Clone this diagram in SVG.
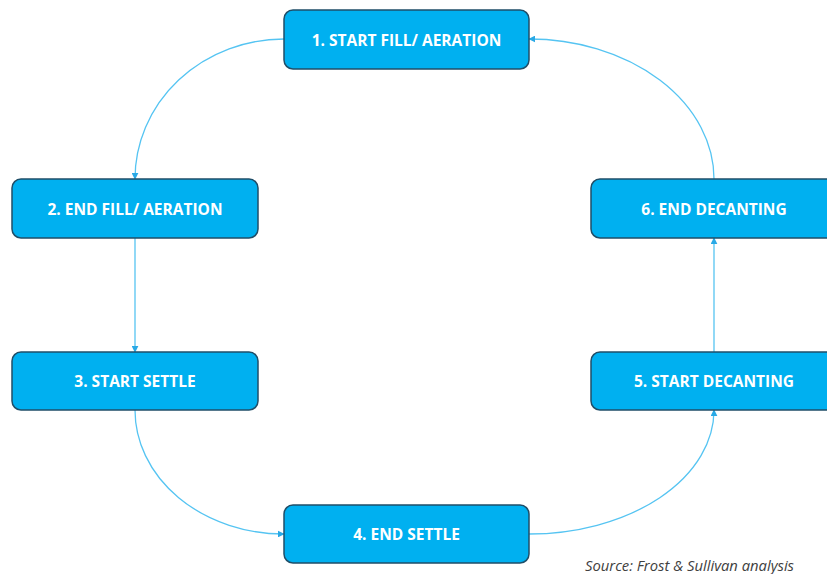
<svg xmlns="http://www.w3.org/2000/svg" width="827" height="574" viewBox="0 0 827 574">
<style>
.box{fill:#00B0F0;stroke:#1F4E68;stroke-width:1.5}
.lbl{fill:#FFFFFF;font-family:"Open Sans","Liberation Sans",sans-serif;font-weight:bold;font-size:15.5px;text-anchor:middle;dominant-baseline:central}
.con{fill:none;stroke:#55C4F2;stroke-width:1.3;marker-end:url(#ah)}
.src{fill:#404040;font-family:"Open Sans","Liberation Sans",sans-serif;font-style:italic;font-size:14.8px}
</style>
<defs>
<marker id="ah" viewBox="0 0 10 10" refX="9" refY="5" markerWidth="7" markerHeight="7" orient="auto" markerUnits="userSpaceOnUse">
<path d="M0,0 L10,5 L0,10 z" fill="#29A9E6"/>
</marker>
</defs>
<rect width="827" height="574" fill="#FFFFFF"/>
<g id="connectors">
<path class="con" d="M284,39 A149,140 0 0 0 135,179"/>
<path class="con" d="M135,238 L135,352"/>
<path class="con" d="M135,410 A149,124 0 0 0 284,534"/>
<path class="con" d="M529,534 A185,124 0 0 0 714,410"/>
<path class="con" d="M714,352 L714,238"/>
<path class="con" d="M714,179 A185,140 0 0 0 529,39"/>
</g>
<g id="n1"><rect class="box" x="284" y="10" width="245" height="59" rx="9"/><text class="lbl" x="406.5" y="40">1. START FILL/ AERATION</text></g>
<g id="n2"><rect class="box" x="12" y="179" width="246" height="59" rx="9"/><text class="lbl" x="135" y="209">2. END FILL/ AERATION</text></g>
<g id="n3"><rect class="box" x="12" y="352" width="246" height="58" rx="9"/><text class="lbl" x="135" y="381">3. START SETTLE</text></g>
<g id="n4"><rect class="box" x="284" y="505" width="245" height="58" rx="9"/><text class="lbl" x="406.5" y="534">4. END SETTLE</text></g>
<g id="n5"><rect class="box" x="591" y="352" width="246" height="58" rx="9"/><text class="lbl" x="714" y="381">5. START DECANTING</text></g>
<g id="n6"><rect class="box" x="591" y="179" width="246" height="59" rx="9"/><text class="lbl" x="714" y="209">6. END DECANTING</text></g>
<text class="src" x="585" y="571">Source: Frost &amp; Sullivan analysis</text>
</svg>
